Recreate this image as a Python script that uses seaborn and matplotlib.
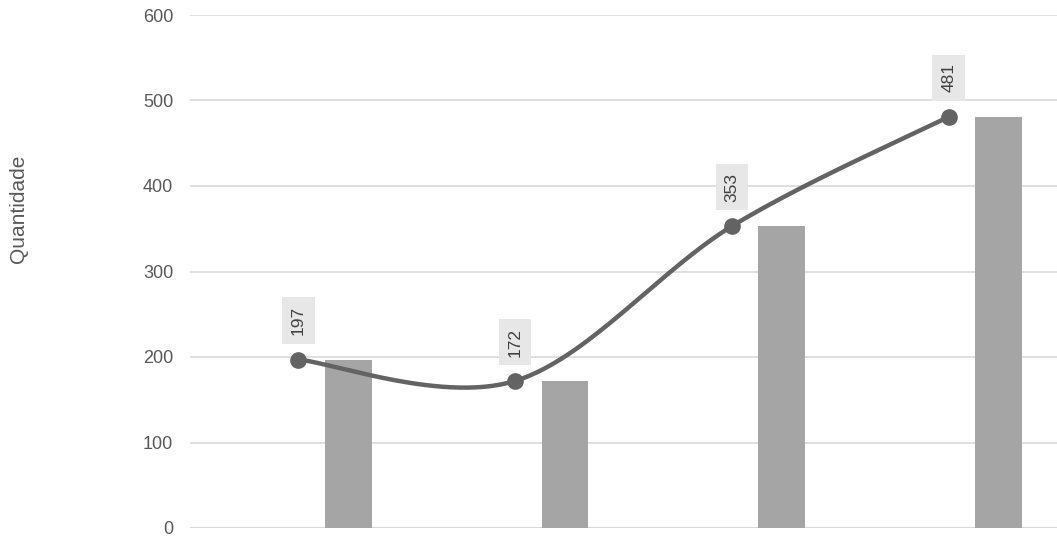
import numpy as np
import pandas as pd
import matplotlib
matplotlib.use("Agg")
import matplotlib.pyplot as plt
import seaborn as sns

categories = ["1", "2", "3", "4"]
values = [197, 172, 353, 481]
y_ticks = [0, 100, 200, 300, 400, 500, 600]

sns.set_theme(style="white")
plt.rcParams['font.family'] = ['Liberation Sans', 'DejaVu Sans']

fig = plt.figure(figsize=(10.57, 5.36), dpi=100)
ax = fig.add_axes([190/1057, 1 - 528/536, 1 - 190/1057, (528 - 15)/536])

x = np.arange(len(categories), dtype=float)
df = pd.DataFrame({"x": x + 0.23, "v": values})
sns.barplot(data=df, x="x", y="v", native_scale=True, width=0.215,
            color="#A5A5A5", saturation=1, ax=ax, zorder=2, edgecolor="none")

# Smoothed line (Catmull-Rom / Bezier like spreadsheet smoothing)
pts = np.column_stack([x, np.array(values, dtype=float)])
ext = np.vstack([pts[0], pts, pts[-1]])
curve = []
t = np.linspace(0, 1, 60)
for i in range(len(pts) - 1):
    p0, p1, p2, p3 = ext[i], ext[i + 1], ext[i + 2], ext[i + 3]
    b0 = p1
    b1 = p1 + (p2 - p0) / 6
    b2 = p2 - (p3 - p1) / 6
    b3 = p2
    seg = ((1 - t)[:, None] ** 3 * b0 + 3 * ((1 - t) ** 2 * t)[:, None] * b1
           + 3 * ((1 - t) * t ** 2)[:, None] * b2 + (t ** 3)[:, None] * b3)
    curve.append(seg)
curve = np.vstack(curve)
cdf = pd.DataFrame({"x": curve[:, 0], "y": curve[:, 1]})
sns.lineplot(data=cdf, x="x", y="y", sort=False, color="#636363", lw=3.2,
             ax=ax, zorder=3)
ax.plot(x, values, "o", color="#636363", ms=11, zorder=4)

for xi, v in zip(x, values):
    ax.annotate(str(v), (xi, v), xytext=(0, 28), textcoords="offset points",
                rotation=90, ha="center", va="center", fontsize=12.5,
                color="#404040",
                bbox=dict(boxstyle="square,pad=0.5", fc="#E7E7E7", ec="none"),
                zorder=5)

ax.set_xlim(-0.5, 3.5)
ax.set_ylim(0, 600)
ax.set_yticks(y_ticks)
ax.set_yticklabels([str(v) for v in y_ticks], fontsize=13, color="#595959")
ax.tick_params(axis="y", length=0, pad=12)
ax.set_xticks([])
ax.set_xlabel("")
ax.set_ylabel("Quantidade", fontsize=15, color="#595959", labelpad=0)
ax.yaxis.set_label_coords(-0.187, 0.622)
ax.grid(axis="y", color="#D9D9D9", lw=1.2, zorder=0)
ax.set_axisbelow(True)
for s in ax.spines.values():
    s.set_visible(False)
ax.axhline(0, color="#D9D9D9", lw=1.5, zorder=1)

fig.savefig("out.png", dpi=100)
